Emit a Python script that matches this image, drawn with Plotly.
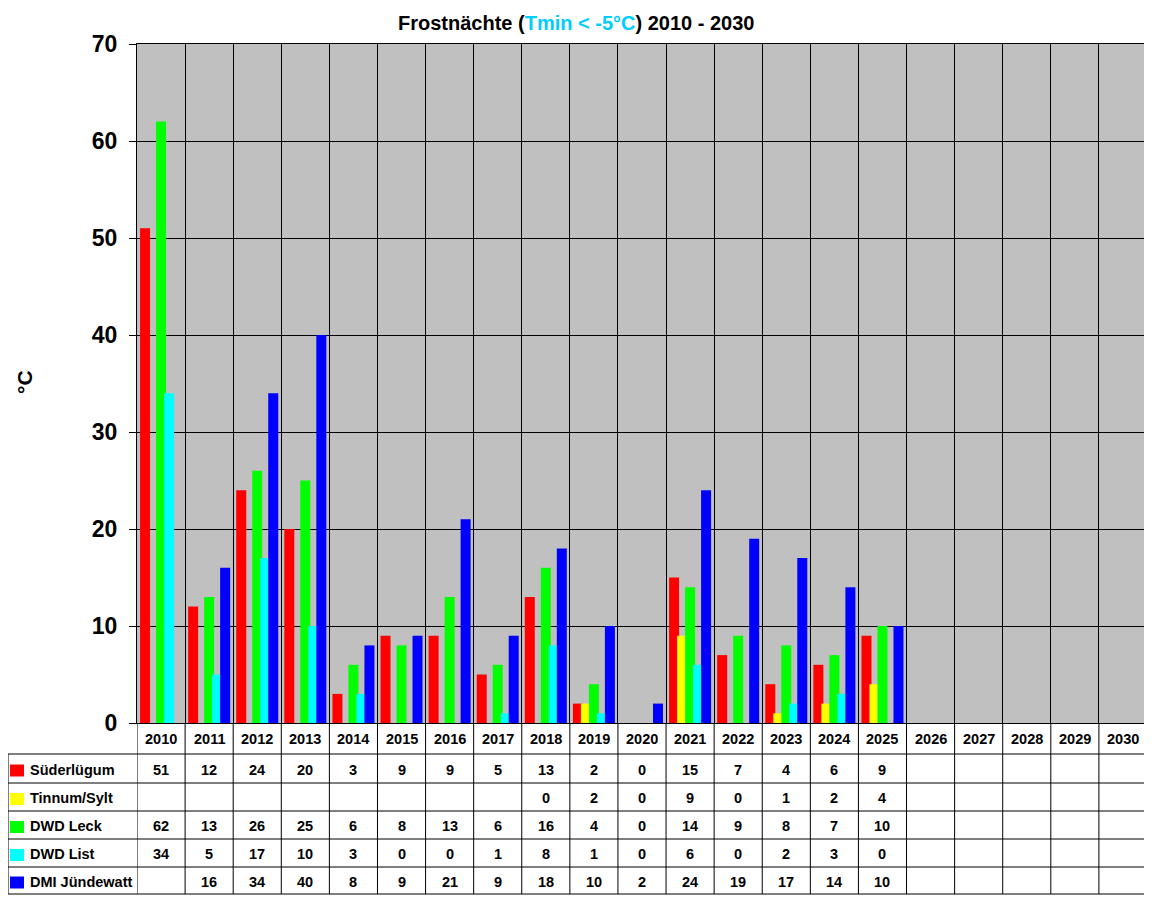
import plotly.graph_objects as go

# Frostnächte je Jahr (Tmin < -5°C)
years = [str(y) for y in range(2010, 2031)]
stations = ["Süderlügum", "Tinnum/Sylt", "DWD Leck", "DWD List", "DMI Jündewatt"]
colors = ["#FF0000", "#FFFF00", "#00FF00", "#00FFFF", "#0000FF"]

suederluegum = [51, 12, 24, 20, 3, 9, 9, 5, 13, 2, 0, 15, 7, 4, 6, 9]
tinnum = [None, None, None, None, None, None, None, None, 0, 2, 0, 9, 0, 1, 2, 4]
leck = [62, 13, 26, 25, 6, 8, 13, 6, 16, 4, 0, 14, 9, 8, 7, 10]
dwd_list = [34, 5, 17, 10, 3, 0, 0, 1, 8, 1, 0, 6, 0, 2, 3, 0]
juendewatt = [None, 16, 34, 40, 8, 9, 21, 9, 18, 10, 2, 24, 19, 17, 14, 10]

series = [suederluegum, tinnum, leck, dwd_list, juendewatt]

W, H = 1152, 900
FONT = "Liberation Sans, Arial, sans-serif"
OFF = 8  # page body margin of the html


def px(x):
    return max(0.0, (x - OFF) / W)


def py(y):
    return 1 - (y - OFF) / H


# plot area / table edges in screen pixels
px_l, px_r, px_t, px_b = 137, 1147, 44, 723
tab_l = 8
row_edges = [754, 783, 811, 839, 867, 894]

fig = go.Figure()

bar_w = 10 / 48.1
step = 8 / 48.1
start = -21 / 48.1
for i, (name, vals) in enumerate(zip(stations, series)):
    fig.add_trace(go.Bar(
        x=years[:len(vals)], y=vals, name=name,
        marker_color=colors[i], marker_line_width=0,
        width=bar_w, offset=start + i * step,
        showlegend=False,
    ))

# ---- data table below the chart (text on the x axis scale) ----
tfont = dict(family=FONT, size=14.5, color="black")
ann = []
shapes = []

# header with the years
for j, y in enumerate(years):
    ann.append(dict(text="<b>%s</b>" % y, x=j, xref="x",
                    y=py((px_b + row_edges[0]) / 2), yref="paper",
                    showarrow=False, xanchor="center", yanchor="middle", font=tfont))

for i, (name, vals) in enumerate(zip(stations, series)):
    yc = (row_edges[i] + row_edges[i + 1]) / 2 + 1
    ann.append(dict(text="<b>%s</b>" % name, x=px(28), xref="paper",
                    y=py(yc), yref="paper", showarrow=False,
                    xanchor="left", yanchor="middle", font=tfont))
    for j, v in enumerate(vals):
        if v is None:
            continue
        ann.append(dict(text="<b>%d</b>" % v, x=j, xref="x",
                        y=py(yc), yref="paper", showarrow=False,
                        xanchor="center", yanchor="middle", font=tfont))
    # colour key
    shapes.append(dict(type="rect", xref="paper", yref="paper",
                       x0=px(10), x1=px(24), y0=py(yc - 5), y1=py(yc + 7),
                       fillcolor=colors[i], line_width=0, layer="above"))

line = dict(color="black", width=1)
# horizontal table lines
for k, ye in enumerate(row_edges):
    shapes.append(dict(type="line", xref="paper", yref="paper",
                       x0=px(tab_l), x1=px(px_r), y0=py(ye), y1=py(ye), line=line))
# vertical table lines
shapes.append(dict(type="line", xref="paper", yref="paper",
                   x0=px(tab_l), x1=px(tab_l), y0=py(row_edges[0]), y1=py(row_edges[-1]), line=line))
for j in range(len(years) + 1):
    shapes.append(dict(type="line", xref="x", yref="paper",
                       x0=j - 0.5, x1=j - 0.5, y0=py(px_b), y1=py(row_edges[-1]), line=line))

ann += [
    dict(text="<b>Frostnächte (<span style='color:#00CCFF'>Tmin &lt; -5°C</span>) 2010 - 2030</b>",
         x=px(576), y=py(23), xref="paper", yref="paper",
         xanchor="center", yanchor="middle",
         showarrow=False, font=dict(family=FONT, size=20, color="black")),
    dict(text="<b>°C</b>", textangle=-90,
         x=px(24), y=py(382), xref="paper", yref="paper",
         xanchor="center", yanchor="middle",
         showarrow=False, font=dict(family=FONT, size=21, color="black")),
]

fig.update_layout(
    width=W, height=H,
    margin=dict(l=0, r=0, t=0, b=0),
    paper_bgcolor="white",
    plot_bgcolor="#C0C0C0",
    barmode="overlay",
    font=dict(family=FONT, color="black"),
    shapes=shapes,
    annotations=ann,
    xaxis=dict(
        domain=[px(px_l), px(px_r)],
        type="category", categoryorder="array", categoryarray=years,
        range=[-0.5, len(years) - 0.5],
        showticklabels=False, tickson="boundaries", ticks="",
        showgrid=True, gridcolor="black", gridwidth=1,
        showline=True, linecolor="black", linewidth=1, mirror=True,
        zeroline=False,
    ),
    yaxis=dict(
        domain=[py(px_b), py(px_t)],
        range=[0, 70], dtick=10,
        ticks="outside", ticklen=7, tickcolor="black",
        ticklabelstandoff=7,
        tickfont=dict(family=FONT, size=23, weight="bold"),
        showgrid=True, gridcolor="black", gridwidth=1,
        showline=True, linecolor="black", linewidth=1, mirror=True,
        zeroline=False, automargin=False,
    ),
)

fig.write_html("out.html")
